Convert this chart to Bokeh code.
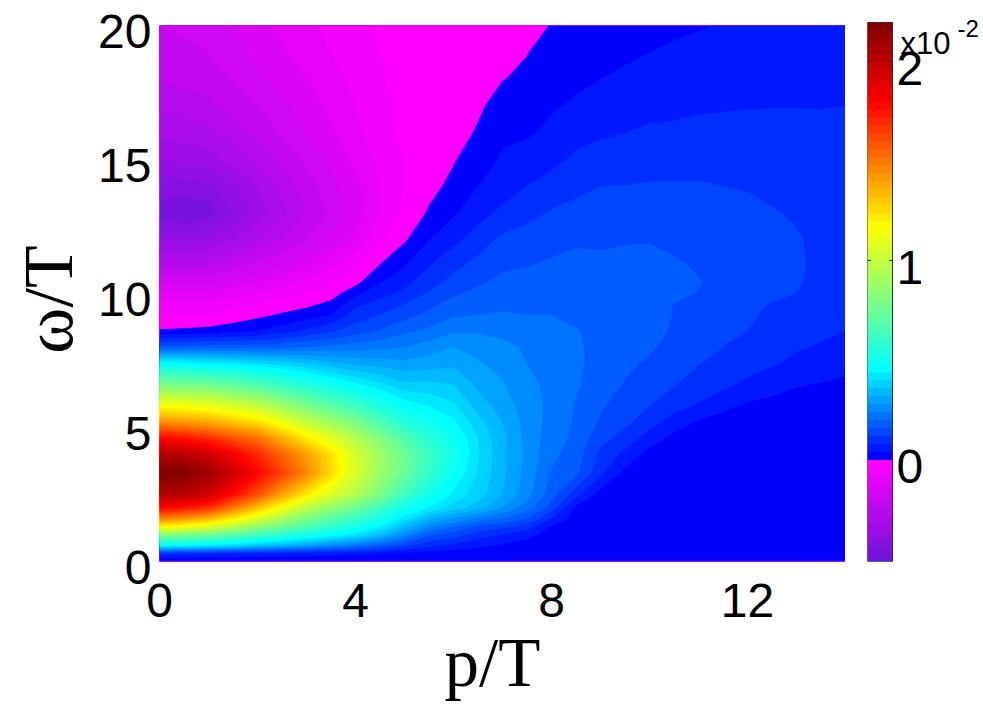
from bokeh.plotting import figure
from bokeh.layouts import row
from bokeh.models import Range1d, Title
from bokeh.core.properties import value
from bokeh.embed import file_html
from bokeh.resources import INLINE
import numpy as np

# values, in units of 1e-2
omega = [0, .3, .6, 1, 1.3, 1.6, 2, 2.5, 3.3, 4, 4.6, 5.2, 5.8, 6.6, 7.4, 8, 8.6, 9.2, 9.6, 10, 10.4, 11, 12, 13, 14, 15, 16, 17, 18, 19, 20]
p_grid = [0, .5, 1, 1.5, 2, 2.5, 3, 3.5, 4, 4.5, 5, 5.5, 6, 6.5, 7, 7.5, 8, 8.5, 9, 9.5, 10, 10.5, 11, 11.5, 12, 12.5, 13, 13.5, 14]

v_p000 = [.001, .10, .46, .82, 1.2, 1.48, 1.8, 2.05, 2.2, 2.05, 1.8, 1.45, 1.17, .8, .46, .17, .005, -.04, -.07, -.11, -.16, -.25, -.38, -.46, -.42, -.36, -.31, -.27, -.24, -.22, -.2]
v_p005 = [.001, .09, .45, .8, 1.15, 1.43, 1.75, 2.02, 2.19, 2.02, 1.76, 1.42, 1.15, .78, .45, .175, .008, -.04, -.07, -.11, -.16, -.25, -.38, -.48, -.42, -.35, -.3, -.26, -.23, -.21, -.19]
v_p010 = [.001, .08, .43, .76, 1.08, 1.35, 1.68, 1.95, 2.1, 1.95, 1.7, 1.38, 1.12, .76, .43, .18, .015, -.04, -.07, -.11, -.16, -.24, -.36, -.46, -.41, -.34, -.29, -.25, -.22, -.2, -.18]
v_p015 = [.001, .075, .4, .71, .97, 1.22, 1.5, 1.78, 1.96, 1.83, 1.6, 1.32, 1.06, .72, .42, .18, .025, -.025, -.055, -.095, -.14, -.21, -.32, -.4, -.37, -.3, -.26, -.22, -.195, -.175, -.155]
v_p020 = [.001, .07, .36, .65, .86, 1.08, 1.32, 1.6, 1.8, 1.7, 1.52, 1.25, 1.0, .67, .4, .18, .04, -.01, -.04, -.08, -.12, -.18, -.28, -.34, -.32, -.27, -.23, -.2, -.17, -.15, -.13]
v_p025 = [.001, .065, .33, .58, .76, .93, 1.14, 1.4, 1.64, 1.55, 1.37, 1.13, .9, .61, .38, .19, .06, .005, -.02, -.06, -.095, -.15, -.24, -.29, -.27, -.23, -.195, -.17, -.145, -.125, -.11]
v_p030 = [.001, .06, .3, .52, .68, .8, .98, 1.22, 1.47, 1.4, 1.22, 1.0, .8, .55, .36, .2, .09, .02, -.01, -.04, -.07, -.12, -.2, -.24, -.22, -.19, -.16, -.14, -.12, -.1, -.09]
v_p035 = [.001, .055, .26, .47, .6, .7, .86, 1.07, 1.27, 1.24, 1.09, .9, .71, .5, .33, .21, .115, .04, .012, -.02, -.05, -.08, -.15, -.19, -.175, -.15, -.125, -.11, -.095, -.08, -.07]
v_p040 = [.001, .05, .22, .42, .52, .62, .75, .95, 1.06, 1.05, .95, .8, .63, .45, .31, .22, .14, .1, .07, .03, -.01, -.05, -.11, -.14, -.13, -.11, -.09, -.08, -.07, -.06, -.05]
v_p045 = [.001, .045, .18, .35, .44, .52, .63, .8, .89, .9, .81, .67, .54, .41, .3, .23, .165, .12, .095, .065, .04, .005, -.05, -.08, -.08, -.07, -.055, -.05, -.045, -.04, -.035]
v_p050 = [.001, .03, .13, .26, .34, .42, .5, .63, .74, .76, .68, .56, .47, .37, .29, .24, .19, .145, .12, .09, .07, .04, -.005, -.03, -.04, -.04, -.03, -.03, -.025, -.02, -.02]
v_p055 = [.001, .025, .09, .17, .25, .33, .44, .52, .6, .62, .57, .5, .44, .37, .3, .26, .21, .17, .15, .125, .105, .08, .04, .005, -.012, -.02, -.018, -.018, -.015, -.012, -.012]
v_p060 = [.001, .02, .07, .14, .2, .28, .38, .43, .48, .51, .49, .45, .41, .36, .31, .28, .235, .195, .175, .155, .135, .11, .07, .035, .01, -.003, -.015, -.015, -.012, -.01, -.01]
v_p065 = [.001, .015, .05, .1, .15, .23, .34, .38, .395, .405, .4, .375, .345, .31, .285, .265, .235, .2, .185, .17, .155, .135, .1, .065, .04, .02, .004, -.006, -.008, -.007, -.007]
v_p070 = [.001, .01, .035, .08, .13, .2, .28, .32, .33, .33, .33, .32, .30, .285, .265, .25, .23, .205, .19, .18, .17, .155, .13, .09, .06, .045, .033, .015, -.001, -.005, -.006]
v_p075 = [.001, .008, .02, .055, .1, .16, .22, .255, .265, .27, .265, .265, .26, .25, .24, .235, .22, .2, .195, .185, .175, .16, .14, .105, .08, .055, .035, .018, .006, -.001, -.004]
v_p080 = [.001, .005, .012, .022, .035, .08, .14, .18, .197, .21, .22, .225, .23, .23, .225, .22, .21, .2, .195, .185, .175, .165, .15, .125, .095, .07, .05, .035, .02, .012, .0005]
v_p085 = [.001, .004, .006, .01, .015, .02, .03, .095, .17, .18, .19, .195, .197, .205, .208, .205, .202, .193, .187, .18, .175, .172, .155, .135, .108, .087, .067, .047, .03, .017, .006]
v_p090 = [.001, .003, .005, .008, .01, .012, .016, .024, .09, .11, .135, .155, .165, .18, .185, .19, .19, .185, .18, .175, .17, .165, .157, .14, .12, .095, .075, .06, .04, .02, .015]
v_p095 = [.001, .002, .004, .006, .007, .009, .011, .015, .028, .07, .105, .128, .143, .157, .168, .175, .18, .182, .18, .178, .175, .168, .158, .14, .121, .1, .08, .065, .047, .033, .022]
v_p100 = [.001, .002, .003, .004, .005, .006, .007, .01, .015, .025, .06, .1, .12, .14, .155, .165, .175, .18, .182, .182, .18, .172, .158, .14, .123, .105, .085, .07, .055, .04, .03]
v_p105 = [.001, .002, .003, .003, .004, .005, .005, .007, .01, .016, .03, .06, .095, .122, .138, .148, .155, .158, .159, .172, .172, .165, .153, .138, .123, .107, .087, .072, .058, .045, .034]
v_p110 = [.001, .001, .002, .003, .003, .004, .004, .005, .007, .012, .02, .035, .075, .105, .122, .135, .143, .148, .15, .158, .162, .157, .148, .135, .123, .108, .09, .075, .06, .048, .038]
v_p115 = [.001, .001, .002, .002, .003, .003, .004, .004, .006, .01, .015, .026, .048, .09, .11, .12, .13, .135, .14, .148, .15, .147, .141, .132, .12, .108, .091, .077, .063, .052, .042]
v_p120 = [.001, .001, .001, .002, .002, .003, .003, .004, .005, .008, .012, .02, .034, .07, .1, .11, .12, .125, .13, .137, .138, .137, .134, .128, .118, .107, .093, .078, .067, .056, .047]
v_p125 = [.001, .001, .001, .002, .002, .002, .003, .003, .004, .007, .01, .017, .028, .055, .085, .098, .108, .114, .118, .128, .13, .131, .128, .122, .114, .103, .092, .079, .069, .058, .05]
v_p130 = [.001, .001, .001, .001, .002, .002, .002, .003, .004, .006, .009, .014, .022, .043, .07, .085, .095, .102, .108, .12, .123, .125, .123, .117, .11, .1, .09, .079, .07, .06, .052]
v_p135 = [.001, .001, .001, .001, .002, .002, .002, .003, .004, .005, .008, .012, .018, .038, .06, .076, .088, .095, .1, .108, .11, .113, .112, .109, .104, .096, .088, .079, .07, .061, .053]
v_p140 = [.001, .001, .001, .001, .001, .002, .002, .002, .003, .005, .007, .01, .015, .032, .052, .066, .08, .086, .09, .093, .096, .098, .1, .1, .098, .092, .086, .08, .07, .062, .055]

x_ticks = [0, 4, 8, 12]
y_ticks = [0, 5, 10, 15, 20]
cb_ticks = [0, 1, 2]

columns = [v_p000, v_p005, v_p010, v_p015, v_p020, v_p025, v_p030, v_p035, v_p040, v_p045, v_p050, v_p055, v_p060, v_p065, v_p070,
           v_p075, v_p080, v_p085, v_p090, v_p095, v_p100, v_p105, v_p110, v_p115, v_p120, v_p125, v_p130, v_p135, v_p140]
z = np.array(columns, dtype=float).T

levels = [round(-0.52 + 0.04 * i, 2) for i in range(70)]

stops = [(-0.5, (110, 20, 220)), (-0.02, (255, 0, 255))]
jet = [(0.02, (0, 0, 255)), (0.46, (0, 255, 255)), (0.81, (128, 255, 128)), (1.17, (255, 255, 0)),
       (1.48, (255, 128, 0)), (1.80, (255, 0, 0)), (2.2, (128, 0, 0))]

def colour(v):
    table = stops if v < 0 else jet
    xs = [t[0] for t in table]
    c = [int(round(np.interp(v, xs, [t[1][k] for t in table]))) for k in range(3)]
    return "#%02x%02x%02x" % tuple(c)

palette = [colour((a + b) / 2) for a, b in zip(levels[:-1], levels[1:])]

FONT = "Liberation Sans"
SERIF = "Liberation Serif"
TICK = "48px"

# left strip: carries the omega axis, its frame sits 6px lower because the labels do in the reference
ya = figure(width=159, height=716, x_range=Range1d(0, 1), y_range=Range1d(0, 20),
            output_backend="svg", toolbar_location=None, x_axis_location=None,
            min_border_left=158, min_border_right=0, min_border_top=31, min_border_bottom=149)
ya.frame_align = False
ya.grid.visible = False
ya.outline_line_color = None
ya.yaxis.ticker = y_ticks
ya.yaxis.major_label_text_font = FONT
ya.yaxis.major_label_text_font_size = TICK
ya.yaxis.major_label_text_color = "black"
ya.yaxis.major_label_standoff = 2
ya.yaxis.major_tick_line_color = None
ya.yaxis.minor_tick_line_color = None
ya.yaxis.axis_line_color = None
ya.add_layout(Title(text="ω/T", align="center", text_font=SERIF, text_font_size="70px",
                    text_font_style="normal", text_color="black", standoff=17), "left")

# the main figure overlaps the strip by 30px so that the "0" under the frame's corner stays centred on its tick
OVERLAP = 30
p = figure(width=686 + OVERLAP, height=716, x_range=Range1d(0, 14), y_range=Range1d(0, 20),
           output_backend="svg", toolbar_location=None, y_axis_location=None,
           min_border_left=OVERLAP, min_border_right=0, min_border_top=25, min_border_bottom=155)
p.margin = (0, 0, 0, -OVERLAP)
p.frame_align = False
p.border_fill_color = None
p.grid.visible = False
p.outline_line_color = "#888888"
p.background_fill_color = palette[0]

# each level is painted over the one below it, so the bands leave no seams
for low, col in zip(levels[:-1], palette):
    if low < z.max():
        p.contour(p_grid, omega, z, [low, 100], fill_color=[col])

p.xaxis.ticker = x_ticks
p.xaxis.major_label_text_font = FONT
p.xaxis.major_label_text_font_size = TICK
p.xaxis.major_label_text_color = "black"
p.xaxis.major_label_standoff = 16
p.xaxis.major_tick_line_color = None
p.xaxis.minor_tick_line_color = None
p.xaxis.axis_line_color = None
p.add_layout(Title(text="p/T", align="left", offset=285, text_font=SERIF, text_font_size="69px",
                   text_font_style="normal", text_color="black", standoff=6), "below")

cb_low, cb_high = -0.513, 2.196
cb_scale = 199
cb = figure(width=138, height=716, x_range=Range1d(0, 116 / 25), y_range=Range1d(cb_low, cb_high + 17 / cb_scale),
            output_backend="svg", toolbar_location=None,
            min_border_left=22, min_border_right=0, min_border_top=5, min_border_bottom=155)
cb.frame_align = False
cb.grid.visible = False
cb.xaxis.visible = False
cb.yaxis.visible = False
cb.outline_line_color = None
edges = np.clip(levels, cb_low, cb_high)
cb.quad(left=0, right=1, bottom=edges[:-1], top=edges[1:], fill_color=palette, line_color=palette)
cb.quad(left=[0], right=[1], bottom=[cb_low], top=[cb_high], fill_color=None, line_color="#333333")

cb.segment(x0=[0, 0], x1=[0.14, 0.14], y0=[1, 2], y1=[1, 2], line_color="#222222")
cb.segment(x0=[0.86, 0.86], x1=[1, 1], y0=[1, 2], y1=[1, 2], line_color="#222222")

cb.text(x=[1] * 3, y=cb_ticks, text=[str(v) for v in cb_ticks], x_offset=4, y_offset=7,
        text_baseline="middle", text_align="left", text_font=value(FONT),
        text_font_size=value(TICK), text_color="black")
cb.text(x=[1], y=[cb_high], text=["x10"], x_offset=8, y_offset=21, text_align="left",
        text_baseline="alphabetic", text_font=value(FONT), text_font_size=value("31px"), text_color="black")
cb.text(x=[1], y=[cb_high], text=["-2"], x_offset=65, y_offset=6, text_align="left",
        text_baseline="alphabetic", text_font=value(FONT), text_font_size=value("24px"), text_color="black")

layout = row(ya, p, cb, spacing=0)
open("out.html", "w").write(file_html(layout, INLINE))
